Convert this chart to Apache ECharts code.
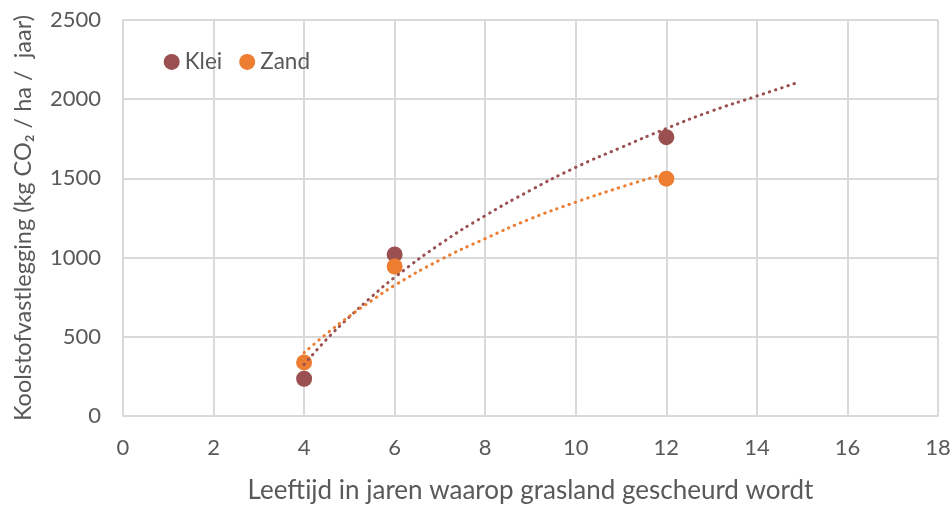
<!DOCTYPE html>
<html>
<head>
<meta charset="utf-8">
<script src="https://cdn.jsdelivr.net/npm/echarts@6/dist/echarts.min.js"></script>
<style>
  html, body { margin: 0; padding: 0; background: #fff; }
  #chart { width: 952px; height: 507px; }
</style>
</head>
<body>
<div id="chart"></div>
<script>
// Measured carbon storage per soil type
const xTicksMin = 0, xTicksMax = 18, xStep = 2;
const yTicksMin = 0, yTicksMax = 2500, yStep = 500;

const kleiAges = [4, 6, 12];
const kleiValues = [235, 1020, 1760];
const zandAges = [4, 6, 12];
const zandValues = [338, 944, 1498];

// Dotted trend curves (values along each curve)
const kleiTrendAges = [4, 4.5, 5, 5.5, 6, 7, 8, 9, 10, 11, 12, 13, 14, 14.9];
const kleiTrendValues = [325, 485, 625, 755, 875, 1085, 1265, 1425, 1570, 1695, 1815, 1925, 2020, 2105];
const zandTrendAges = [4, 4.5, 5, 5.5, 6, 7, 8, 9, 10, 11, 11.8];
const zandTrendValues = [400, 520, 630, 730, 825, 985, 1120, 1245, 1350, 1445, 1515];

const kleiColor = '#9A4F50';
const zandColor = '#ED7D31';
const textColor = '#595959';
const gridColor = '#D9D9D9';
const fontFamily = 'Lato, "Open Sans", sans-serif';

const pairs = (xs, ys) => xs.map((x, i) => [x, ys[i]]);

const chart = echarts.init(document.getElementById('chart'), null, { renderer: 'canvas' });
chart.setOption({
  animation: false,
  backgroundColor: '#fff',
  textStyle: { fontFamily: fontFamily },
  grid: { left: 123, right: 14, top: 20, bottom: 91, containLabel: false, outerBoundsMode: 'none' },
  legend: {
    data: ['Klei', 'Zand'],
    left: 163.7, top: 50.4, padding: 0,
    icon: 'circle',
    itemWidth: 16, itemHeight: 16, itemGap: 17,
    textStyle: { color: textColor, fontSize: 22.5, fontFamily: fontFamily, padding: [0, 0, 0, 0] }
  },
  xAxis: {
    type: 'value',
    min: xTicksMin, max: xTicksMax, interval: xStep,
    name: 'Leeftijd in jaren waarop grasland gescheurd wordt',
    nameLocation: 'middle', nameGap: 62,
    nameTextStyle: { color: textColor, fontSize: 26, fontFamily: fontFamily },
    axisLine: { show: true, lineStyle: { color: gridColor, width: 2 } },
    axisTick: { show: false },
    axisLabel: { color: textColor, fontSize: 22, margin: 21, fontFamily: fontFamily },
    splitLine: { show: true, lineStyle: { color: gridColor, width: 2 } }
  },
  yAxis: {
    type: 'value',
    min: yTicksMin, max: yTicksMax, interval: yStep,
    name: 'Koolstofvastlegging (kg CO\u2082 / ha /  jaar)',
    nameLocation: 'middle', nameGap: 88, nameRotate: 90,
    nameTextStyle: { color: textColor, fontSize: 23.5, fontFamily: fontFamily },
    axisLine: { show: true, lineStyle: { color: gridColor, width: 2 } },
    axisTick: { show: false },
    axisLabel: { color: textColor, fontSize: 22, margin: 22, fontFamily: fontFamily, formatter: v => String(v) },
    splitLine: { show: true, lineStyle: { color: gridColor, width: 2 } }
  },
  series: [
    {
      name: 'Klei', type: 'scatter', symbol: 'circle', symbolSize: 16,
      itemStyle: { color: kleiColor, opacity: 1 },
      data: pairs(kleiAges, kleiValues), z: 2
    },
    {
      name: 'Zand', type: 'scatter', symbol: 'circle', symbolSize: 16,
      itemStyle: { color: zandColor, opacity: 1 },
      data: pairs(zandAges, zandValues), z: 2
    },
    {
      name: 'Klei trend', type: 'line', smooth: true, showSymbol: false, symbol: 'none',
      lineStyle: { color: kleiColor, width: 3, type: [0.5, 6], cap: 'round' },
      data: pairs(kleiTrendAges, kleiTrendValues), z: 3, silent: true
    },
    {
      name: 'Zand trend', type: 'line', smooth: true, showSymbol: false, symbol: 'none',
      lineStyle: { color: zandColor, width: 3, type: [0.5, 6], cap: 'round' },
      data: pairs(zandTrendAges, zandTrendValues), z: 3, silent: true
    }
  ]
});
</script>
</body>
</html>
